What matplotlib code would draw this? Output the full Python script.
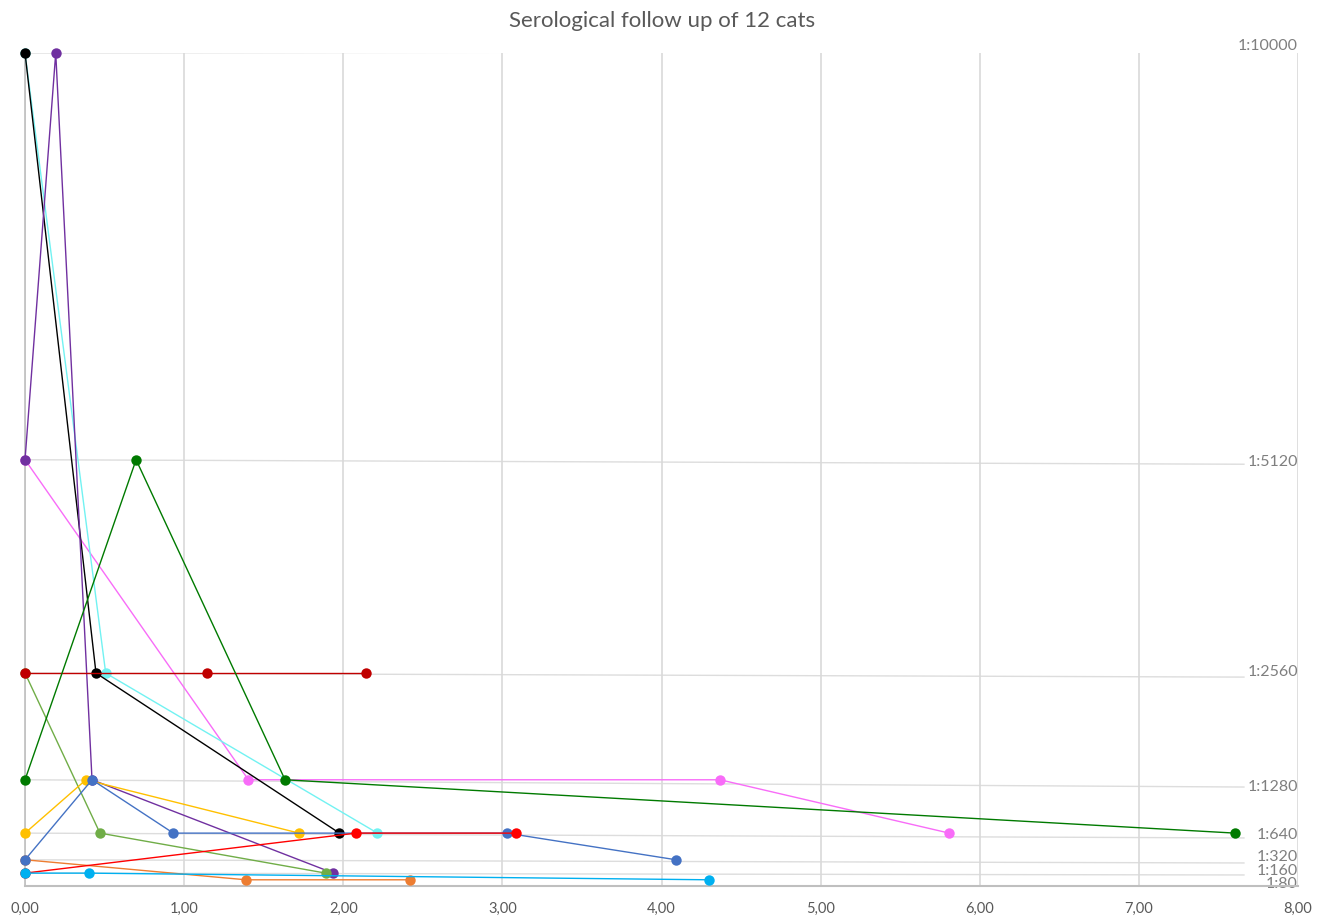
import matplotlib.pyplot as plt
import matplotlib.transforms as mtransforms
from matplotlib.ticker import FuncFormatter

plt.rcParams['font.family'] = ['Lato', 'DejaVu Sans']

# follow up time (x) and titer (y) for each cat
cats = [
    # colour, x values, titers
    ("#F86CF8", [0, 1.404, 4.368, 5.808], [5120, 1280, 1280, 640]),
    ("#72F2F2", [0, 0.507, 2.215], [10000, 2560, 640]),
    ("#000000", [0, 0.446, 1.976], [10000, 2560, 640]),
    ("#7030A0", [0, 0.193, 0.421, 1.938], [5120, 10000, 1280, 160]),
    ("#70AD47", [0, 0.471, 1.890], [2560, 640, 160]),
    ("#C00000", [0, 1.142, 2.141], [2560, 2560, 2560]),
    ("#007A00", [0, 0.698, 1.634, 7.605], [1280, 5120, 1280, 640]),
    ("#FFC000", [0, 0.383, 1.722], [640, 1280, 640]),
    ("#ED7D31", [0, 1.389, 2.422], [320, 80, 80]),
    ("#4472C4", [0, 0.421, 0.932, 3.027, 4.092], [320, 1280, 640, 640, 320]),
    ("#FF0000", [0, 2.080, 3.084], [160, 640, 640]),
    ("#00B0F0", [0, 0.400, 4.299], [160, 160, 80]),
]

# reference lines for the dilution levels (left value, right value)
ref_labels = ["1:10000", "1:5120", "1:2560", "1:1280", "1:640", "1:320", "1:160", "1:80"]
ref_left = [10000, 5120, 2560, 1280, 640, 320, 160, 80]
ref_right = [10021, 5066, 2512, 1193, 582, 282, 138, 66]
# small nudges (points) so the crowded labels sit like in the original
nudge = [4, 1.5, 3.5, 0, 2, 4.5, 3, -2]

fig = plt.figure(figsize=(13.24, 9.17), dpi=100)
ax = fig.add_axes([0.0189, 0.0333, 0.9615, 0.9089])

ax.set_xlim(0, 8)
ax.set_ylim(0, 10000)

# grid vertical lines
ax.set_xticks(range(0, 9))
ax.xaxis.set_major_formatter(FuncFormatter(lambda v, p: f"{v:.2f}".replace(".", ",")))
ax.grid(axis="x", color="#D9D9D9", linewidth=1.2)
ax.set_yticks([])
ax.tick_params(axis="x", length=0, labelsize=10.5, labelcolor="#595959", pad=11)

for s in ["top", "right"]:
    ax.spines[s].set_visible(False)
ax.spines["left"].set_color("#BFBFBF")
ax.spines["bottom"].set_color("#BFBFBF")
ax.spines["left"].set_linewidth(1.2)
ax.spines["bottom"].set_linewidth(1.5)

for i in range(len(ref_labels)):
    if ref_left[i] > 80:
        ax.plot([0, 7.66], [ref_left[i], ref_right[i]], color="#DDDDDD", linewidth=1.0, zorder=1)
    tr = ax.transData + mtransforms.ScaledTranslation(0, nudge[i] / 72, fig.dpi_scale_trans)
    ax.text(8.0, ref_right[i], ref_labels[i], ha="right", va="center", fontsize=11.5,
            color="#7F7F7F", zorder=2, transform=tr)

for col, xs, ys in cats:
    ax.plot(xs, ys, color=col, linewidth=1.0, marker="o", markersize=7.5,
            markeredgewidth=0, clip_on=False, zorder=3)

fig.suptitle("Serological follow up of 12 cats", y=0.988, fontsize=16, color="#595959")

fig.savefig("out.png", dpi=100)
